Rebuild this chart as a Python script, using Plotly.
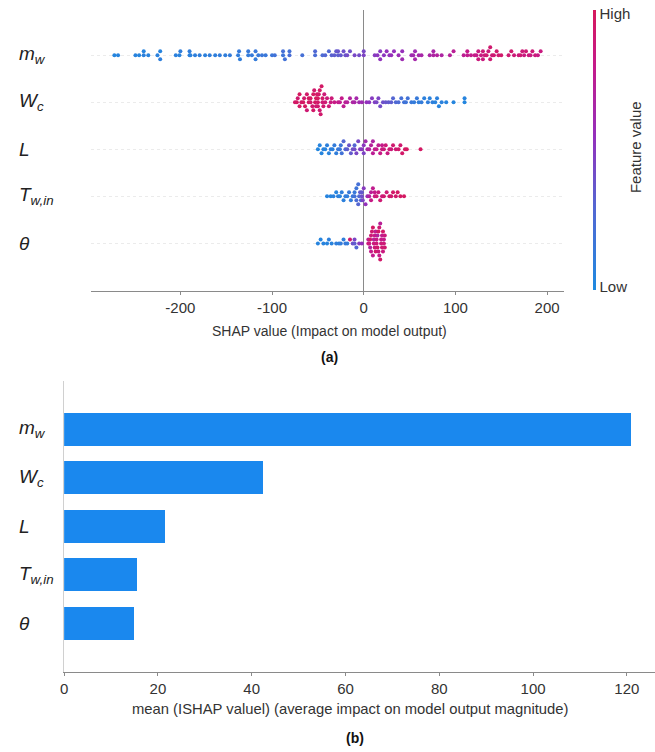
import plotly.graph_objects as go

# ---------------------------------------------------------------------------
# Data
# ---------------------------------------------------------------------------
feature_labels = [
    "<i>m</i><sub><i>w</i></sub>",
    "<i>W</i><sub><i>c</i></sub>",
    "<i>L</i>",
    "<i>T</i><sub><i>w,in</i></sub>",
    "<i>θ</i>",
]
# row index of each feature (top row = most important)
feature_rows = [4, 3, 2, 1, 0]

# mean |SHAP| per feature (panel b)
mean_abs_shap = [121.0, 42.4, 21.5, 15.5, 15.0]

top_ticks = [-200, -100, 0, 100, 200]
bottom_ticks = [0, 20, 40, 60, 80, 100, 120]

# (SHAP value, normalised feature value) per sample, panel a
mw_points = [
    (-272, .04), (-268, .05), (-249, .06), (-245, .04), (-240, .08), (-240, .05), (-235, .06),
    (-225, .07), (-222, .05), (-222, .09), (-205, .08), (-201, .06), (-200, .10), (-190, .08),
    (-190, .10), (-189, .07), (-184, .09), (-179, .10), (-173, .08), (-168, .10), (-162, .09),
    (-157, .11), (-151, .10), (-146, .12), (-137, .11), (-136, .13), (-135, .10), (-126, .12),
    (-126, .14), (-122, .13), (-118, .15), (-118, .12), (-115, .14), (-111, .16), (-107, .15),
    (-100, .17), (-97, .20), (-88, .18), (-88, .22), (-86, .20), (-81, .24), (-81, .21),
    (-67, .22), (-53, .25), (-53, .28), (-45, .26), (-42, .30), (-38, .28), (-35, .32),
    (-32, .34), (-30, .36), (-28, .33), (-28, .38), (-25, .36), (-22, .40), (-20, .38),
    (-18, .42), (-15, .40), (-10, .44), (-5, .42), (0, .46), (0, .44),
    (12, .50), (15, .52), (18, .50), (18, .54), (22, .52), (25, .55), (28, .53), (30, .56),
    (33, .55), (38, .58), (42, .56), (42, .60), (52, .60), (54, .62), (56, .60), (56, .64),
    (60, .63), (63, .65), (72, .66), (76, .68), (76, .65), (80, .70), (85, .68), (94, .72),
    (98, .74), (109, .76), (113, .78), (113, .80), (117, .79), (121, .82), (123, .80),
    (125, .84), (125, .86), (128, .83), (130, .88), (130, .85), (132, .87), (134, .90),
    (136, .86), (138, .90), (138, .92), (140, .88), (142, .91), (145, .93), (147, .90),
    (150, .94), (158, .90), (161, .92), (164, .88), (169, .86), (171, .90), (173, .88),
    (175, .85), (177, .90), (180, .87), (182, .84), (184, .88), (187, .86), (190, .82), (193, .85),
]

wc_points = [
    (-75, .95), (-73, .97), (-72, .92), (-70, .96), (-70, .99), (-68, .94), (-66, .97),
    (-65, .93), (-64, .98), (-62, .95), (-62, .90), (-60, .96), (-60, .99), (-58, .94),
    (-58, .97), (-56, .92), (-55, .98), (-55, .95), (-54, .93), (-53, .97), (-52, .99),
    (-52, .91), (-51, .96), (-50, .94), (-50, .98), (-50, .92), (-49, .95), (-48, .90),
    (-48, .97), (-47, .93), (-46, .96), (-45, .90), (-45, .94), (-44, .92), (-43, .88),
    (-42, .90), (-40, .87), (-38, .89), (-36, .85), (-35, .88),
    (-32, .82), (-28, .80), (-26, .78), (-24, .80), (-22, .76), (-20, .75), (-18, .72),
    (-15, .70), (-12, .68), (-10, .66), (-8, .64), (-5, .62), (-2, .60),
    (3, .55), (6, .52), (9, .50), (12, .48), (14, .45), (16, .46), (18, .42), (21, .40),
    (24, .38), (27, .36), (30, .34), (32, .30), (35, .28), (38, .26), (41, .22), (44, .20),
    (46, .18), (48, .20), (52, .15), (55, .12), (58, .14), (60, .10), (63, .12), (66, .08),
    (70, .10), (72, .07), (75, .09), (78, .06), (80, .08), (82, .05), (85, .07), (90, .05),
    (98, .04), (110, .03), (110, .05),
]

l_points = [
    (-50, .03), (-48, .05), (-46, .04), (-44, .06), (-42, .05), (-40, .08), (-38, .06),
    (-36, .10), (-34, .08), (-32, .12), (-30, .10), (-28, .14), (-26, .15), (-25, .18),
    (-24, .20), (-22, .30), (-20, .28), (-18, .34), (-16, .38), (-14, .36), (-12, .40),
    (-10, .42), (-10, .30), (-8, .45), (-6, .44), (-4, .48), (-2, .50), (0, .52), (0, .46),
    (2, .62), (4, .66), (6, .70), (8, .72), (10, .75), (10, .68), (12, .78), (14, .80),
    (16, .76), (18, .82), (20, .85), (20, .80), (22, .86), (24, .88), (26, .84), (28, .90),
    (30, .87), (32, .92), (35, .90), (38, .94), (40, .92), (42, .95), (45, .96), (47, .98),
    (62, .97),
]

tw_points = [
    (-40, .05), (-36, .04), (-33, .07), (-30, .05), (-28, .08), (-26, .06), (-24, .10),
    (-22, .08), (-20, .12), (-18, .10), (-16, .14), (-14, .12), (-12, .16), (-10, .20),
    (-10, .15), (-8, .25), (-8, .18), (-6, .30), (-6, .22), (-5, .28), (-4, .35), (-3, .32),
    (-2, .40), (-2, .36), (-1, .45), (0, .50), (2, .55), (4, .60),
    (6, .70), (8, .75), (8, .82), (10, .78), (12, .85), (12, .80), (14, .88), (16, .84),
    (18, .90), (20, .87), (22, .92), (25, .90), (28, .94), (30, .92), (32, .95), (35, .93),
    (37, .96), (40, .97), (44, .98),
]

theta_points = [
    (-50, .05), (-47, .04), (-44, .06), (-40, .05), (-38, .08), (-35, .06), (-30, .10),
    (-27, .08), (-25, .12), (-22, .10), (-20, .14), (-18, .12),
    (-15, .92), (-12, .40), (-10, .35), (-10, .45), (-8, .30), (-5, .50), (-2, .55),
    (5, .90), (5, .75), (6, .85), (7, .95), (7, .70), (8, .88), (8, .80), (9, .92),
    (10, .78), (10, .96), (11, .86), (11, .72), (12, .90), (12, .82), (13, .94), (13, .76),
    (14, .88), (14, .84), (15, .92), (15, .70), (16, .86), (16, .96), (17, .80), (17, .90),
    (18, .94), (18, .74), (19, .88), (19, .82), (20, .90), (20, .78), (21, .85), (21, .95),
    (22, .88), (22, .80), (23, .92), (23, .86),
]

feature_samples = [mw_points, wc_points, l_points, tw_points, theta_points]

# ---------------------------------------------------------------------------
# Styling
# ---------------------------------------------------------------------------
W, H = 655, 752
FONT = "Liberation Sans, Arial, sans-serif"
TEXT = "#333333"
BAR_BLUE = "#1a88ee"
SHAP_SCALE = [
    [0.0, "#1e8ae0"],
    [0.3, "#5466d2"],
    [0.55, "#9430bc"],
    [0.8, "#c51a8a"],
    [1.0, "#d6195c"],
]


def fx(px):
    return px / W


def fy(px):
    return 1 - px / H


# beeswarm layout: group close SHAP values and stack them around the row
BIN = 4.0
STEP = 0.085
sx, sy, sc = [], [], []
for row, pts in zip(feature_rows, feature_samples):
    groups = {}
    for v, f in pts:
        groups.setdefault(round(v / BIN), []).append((v, f))
    for members in groups.values():
        for k, (v, f) in enumerate(members):
            level = (k + 1) // 2 * (1 if k % 2 else -1)
            sx.append(v)
            sy.append(row + level * STEP)
            sc.append(f)

fig = go.Figure()

fig.add_trace(go.Scatter(
    x=sx, y=sy, mode="markers", xaxis="x", yaxis="y",
    marker=dict(
        size=4, color=sc, colorscale=SHAP_SCALE, cmin=0, cmax=1,
        line=dict(width=0),
        showscale=True,
        colorbar=dict(
            thickness=3, len=280 / H, lenmode="fraction",
            y=fy(150), yanchor="middle", x=fx(593), xanchor="left",
            xpad=0, ypad=0, outlinewidth=0,
            tickvals=[0.012, 0.988], ticktext=["Low", "High"], ticks="",
            tickfont=dict(family=FONT, size=15, color=TEXT),
        ),
    ),
    hoverinfo="skip", showlegend=False,
))

fig.add_trace(go.Bar(
    x=mean_abs_shap, y=feature_rows, orientation="h", xaxis="x2", yaxis="y2",
    marker=dict(color=BAR_BLUE, line=dict(width=0)), width=0.68,
    hoverinfo="skip", showlegend=False,
))

annotations = []
for lab, row in zip(feature_labels, feature_rows):
    for yref in ("y", "y2"):
        annotations.append(dict(
            text=lab, xref="paper", yref=yref, x=fx(13), y=row,
            xanchor="left", yanchor="middle", showarrow=False,
            font=dict(family=FONT, size=19, color="#222222"),
        ))

annotations += [
    dict(text="SHAP value (Impact on model output)", xref="paper", yref="paper",
         x=fx(327), y=fy(331), xanchor="center", yanchor="middle", showarrow=False,
         font=dict(family=FONT, size=14, color=TEXT)),
    dict(text="<b>(a)</b>", xref="paper", yref="paper",
         x=fx(327), y=fy(357), xanchor="center", yanchor="middle", showarrow=False,
         font=dict(family=FONT, size=14, color="#111111")),
    dict(text="Feature value", xref="paper", yref="paper", textangle=-90,
         x=fx(635), y=fy(147), xanchor="center", yanchor="middle", showarrow=False,
         font=dict(family=FONT, size=15, color=TEXT)),
    dict(text="mean (ISHAP valuel) (average impact on model output magnitude)",
         xref="paper", yref="paper", x=fx(349), y=fy(709),
         xanchor="center", yanchor="middle", showarrow=False,
         font=dict(family=FONT, size=14.8, color=TEXT)),
    dict(text="<b>(b)</b>", xref="paper", yref="paper",
         x=fx(353), y=fy(738), xanchor="center", yanchor="middle", showarrow=False,
         font=dict(family=FONT, size=14, color="#111111")),
]

fig.update_layout(
    width=W, height=H,
    margin=dict(l=0, r=0, t=0, b=0),
    paper_bgcolor="white", plot_bgcolor="white",
    font=dict(family=FONT, color=TEXT),
    annotations=annotations,
    bargap=0,
    xaxis=dict(
        domain=[fx(88), fx(563)], range=[-297, 218], anchor="y",
        tickvals=top_ticks, ticktext=[str(t) for t in top_ticks],
        showgrid=False, showline=True, linecolor="#8a8a8a", linewidth=1,
        ticks="outside", ticklen=3, tickcolor="#8a8a8a",
        tickfont=dict(family=FONT, size=15, color=TEXT),
        zeroline=True, zerolinecolor="#8a8a8a", zerolinewidth=1,
    ),
    yaxis=dict(
        domain=[fy(290.5), fy(10)], range=[-1.0, 4.96], anchor="x",
        tickvals=feature_rows, showticklabels=False,
        showgrid=True, gridcolor="#ebebeb", gridwidth=1, griddash="dot",
        zeroline=False, showline=False,
    ),
    xaxis2=dict(
        domain=[fx(60.5), 1.0], range=[0, 126], anchor="y2",
        tickvals=bottom_ticks, ticktext=[str(t) for t in bottom_ticks],
        showgrid=False, showline=True, linecolor="#8a8a8a", linewidth=1,
        ticks="outside", ticklen=3, tickcolor="#8a8a8a",
        tickfont=dict(family=FONT, size=15, color=TEXT),
        zeroline=False,
    ),
    yaxis2=dict(
        domain=[fy(672), fy(381)], range=[-1.01, 5.0], anchor="x2",
        tickvals=feature_rows, showticklabels=False,
        showgrid=False, zeroline=False,
        showline=True, linecolor="#d0d0d0", linewidth=1,
    ),
)

fig.write_html("out.html")
